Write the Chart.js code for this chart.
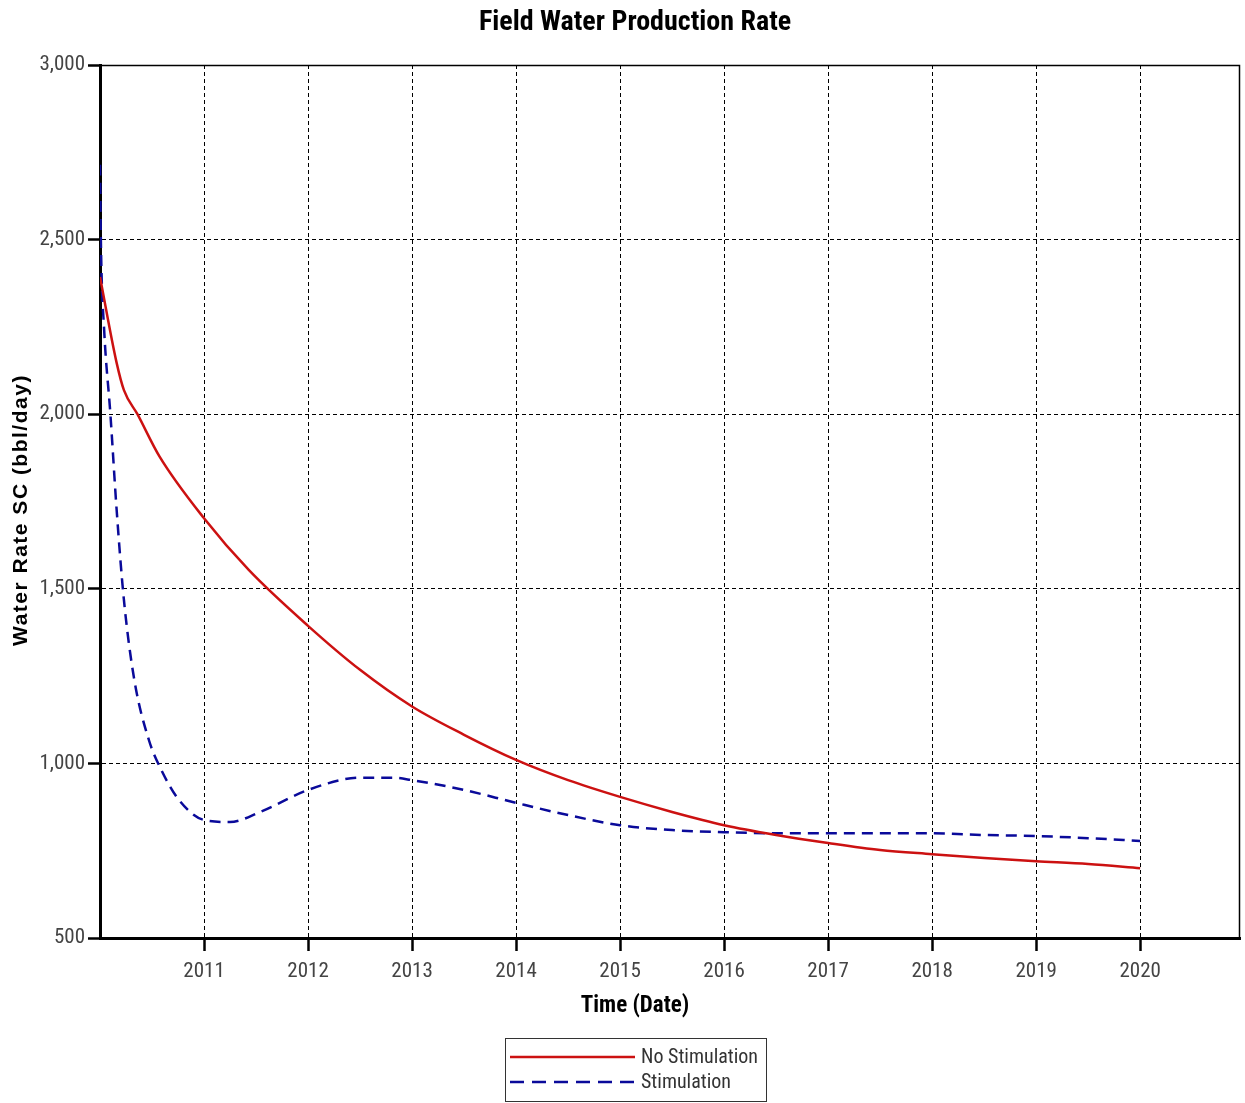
<!DOCTYPE html>
<html lang="en">
<head>
    <meta charset="UTF-8">
    <title>Field Water Production Rate</title>
    <script src="https://cdn.jsdelivr.net/npm/chart.js"></script>
    <style>
        body { margin: 0; background: #fff; }
        #wrap { width: 1245px; height: 1103px; }
    </style>
</head>
<body>
    <div id="wrap">
        <canvas id="waterChart" width="1245" height="1103"></canvas>
    </div>

    <script>
        // Valores (año decimal, bbl/day)
        const noStimYears = [2010.0, 2010.16, 2010.23, 2010.36, 2010.57, 2011.0, 2011.43, 2012.0, 2012.5,
            2013.0, 2013.5, 2014.0, 2014.5, 2015.0, 2015.5, 2016.0, 2016.5, 2017.0, 2017.5,
            2018.0, 2018.5, 2019.0, 2019.5, 2020.0];
        const noStimRates = [2393, 2147, 2069, 2000, 1880, 1702, 1554, 1394, 1268,
            1163, 1082, 1010, 952, 904, 861, 823, 795, 772, 752,
            740, 729, 720, 712, 700];

        const stimYears = [2010.0, 2010.01, 2010.04, 2010.1, 2010.16, 2010.23, 2010.33, 2010.47, 2010.59, 2010.76,
            2011.0, 2011.25, 2011.54, 2012.0, 2012.5, 2012.82, 2013.0, 2013.5, 2014.0, 2014.5,
            2015.0, 2015.5, 2016.0, 2016.5, 2017.0, 2018.0, 2018.5, 2019.0, 2019.5, 2020.0];
        const stimRates = [2714, 2470, 2241, 2000, 1726, 1468, 1239, 1067, 981, 895,
            838, 832, 861, 924, 959, 959, 952, 924, 887, 852,
            823, 809, 803, 800, 800, 800, 795, 792, 786, 778];

        const yearTicks = [2011, 2012, 2013, 2014, 2015, 2016, 2017, 2018, 2019, 2020];
        const rateTicks = [500, 1000, 1500, 2000, 2500, 3000];
        const seriesNames = ['No Stimulation', 'Stimulation'];

        const narrow = "'Liberation Sans Narrow', 'Arial Narrow', 'Roboto Condensed', sans-serif";

        function toPoints(xs, ys) {
            return xs.map((x, i) => ({ x: x, y: ys[i] }));
        }

        // Titulos, marco y leyenda dibujados a mano
        const extras = {
            id: 'extras',
            afterDraw(chart) {
                const ctx = chart.ctx;
                const a = chart.chartArea;
                ctx.save();

                // marco fino arriba y a la derecha
                ctx.strokeStyle = '#000';
                ctx.lineWidth = 1.5;
                ctx.setLineDash([]);
                ctx.beginPath();
                ctx.moveTo(a.left, a.top + 0.5);
                ctx.lineTo(a.right - 0.5, a.top + 0.5);
                ctx.lineTo(a.right - 0.5, a.bottom);
                ctx.stroke();

                ctx.fillStyle = '#000';
                ctx.textAlign = 'center';
                ctx.textBaseline = 'middle';
                ctx.font = 'bold 28px ' + narrow;
                ctx.fillText('Field Water Production Rate', 635, 23);

                ctx.font = 'bold 23px ' + narrow;
                ctx.fillText('Time (Date)', 635, 1006);

                ctx.save();
                ctx.translate(21, 510);
                ctx.rotate(-Math.PI / 2);
                ctx.font = "bold 21px 'Liberation Sans', Arial, sans-serif";
                ctx.letterSpacing = '1.5px';
                ctx.fillText('Water Rate SC (bbl/day)', 0, 0);
                ctx.restore();

                // leyenda
                ctx.strokeStyle = '#333';
                ctx.lineWidth = 1;
                ctx.strokeRect(505.5, 1038.5, 261, 63);

                const ds = chart.data.datasets;
                ctx.lineWidth = 2.5;
                ctx.strokeStyle = ds[0].borderColor;
                ctx.beginPath();
                ctx.moveTo(510, 1057);
                ctx.lineTo(635, 1057);
                ctx.stroke();

                ctx.strokeStyle = ds[1].borderColor;
                ctx.setLineDash([14, 8]);
                ctx.beginPath();
                ctx.moveTo(510, 1082);
                ctx.lineTo(635, 1082);
                ctx.stroke();
                ctx.setLineDash([]);

                ctx.fillStyle = '#333';
                ctx.textAlign = 'left';
                ctx.font = '20px ' + narrow;
                ctx.fillText(ds[0].label, 641, 1058);
                ctx.fillText(ds[1].label, 641, 1083);

                ctx.restore();
            }
        };

        const ctx = document.getElementById('waterChart').getContext('2d');
        new Chart(ctx, {
            type: 'line',
            data: {
                datasets: [{
                    label: seriesNames[0],
                    data: toPoints(noStimYears, noStimRates),
                    borderColor: '#cc1111',
                    borderWidth: 2.5,
                    pointRadius: 0,
                    cubicInterpolationMode: 'monotone',
                    fill: false
                }, {
                    label: seriesNames[1],
                    data: toPoints(stimYears, stimRates),
                    borderColor: '#0a0a9a',
                    borderWidth: 2.5,
                    borderDash: [11, 7],
                    pointRadius: 0,
                    cubicInterpolationMode: 'monotone',
                    fill: false
                }]
            },
            options: {
                responsive: false,
                animation: false,
                layout: { padding: { top: 65, right: 5, left: 0, bottom: 0 } },
                plugins: {
                    legend: { display: false },
                    title: { display: false },
                    tooltip: { enabled: false }
                },
                scales: {
                    x: {
                        type: 'linear',
                        min: 2010,
                        max: 2020.96,
                        afterFit(scale) { scale.height = 165; },
                        afterBuildTicks(scale) { scale.ticks = yearTicks.map(v => ({ value: v })); },
                        ticks: {
                            color: '#444',
                            font: { family: narrow, size: 21 },
                            padding: 8,
                            maxRotation: 0,
                            callback: v => String(v)
                        },
                        grid: {
                            color: '#000',
                            lineWidth: 1,
                            tickLength: 13,
                            tickColor: '#000',
                            tickWidth: 2.5,
                            tickBorderDash: []
                        },
                        border: { display: true, color: '#000', width: 3, dash: [4, 3] }
                    },
                    y: {
                        min: 500,
                        max: 3000,
                        afterFit(scale) { scale.width = 100; },
                        afterBuildTicks(scale) { scale.ticks = rateTicks.map(v => ({ value: v })); },
                        ticks: {
                            color: '#444',
                            font: { family: narrow, size: 21 },
                            padding: 3,
                            callback: v => v.toLocaleString('en-US')
                        },
                        grid: {
                            color: '#000',
                            lineWidth: 1,
                            tickLength: 12,
                            tickColor: '#000',
                            tickWidth: 2.5,
                            tickBorderDash: []
                        },
                        border: { display: true, color: '#000', width: 3, dash: [4, 3] }
                    }
                }
            },
            plugins: [extras]
        });
    </script>
</body>
</html>
